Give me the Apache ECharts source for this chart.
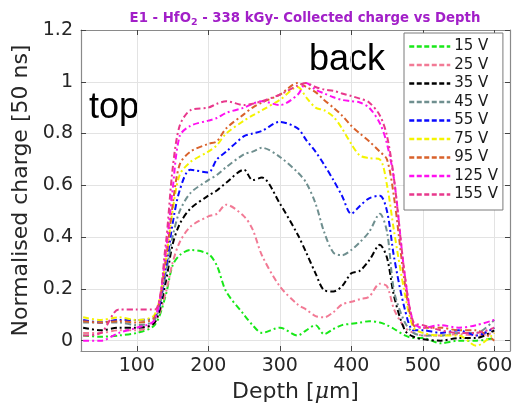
<!DOCTYPE html>
<html><head><meta charset="utf-8">
<script src="https://cdn.jsdelivr.net/npm/echarts@6/dist/echarts.min.js"></script>
<style>html,body{margin:0;padding:0;background:#fff}#c{width:520px;height:411px}</style>
</head><body><div id="c"></div>
<script>
var depth = [25,50,75,100,125,140,150,160,175,200,212,225,250,262,275,300,325,337,350,362,375,387,400,412,425,440,450,460,475,487,500,525,550,575,600];
var v15  = [0.02,0.015,0.02,0.03,0.06, 0.17,0.29,0.33,0.35,0.335, 0.29,0.19,0.10,0.06,0.03, 0.05,0.02,0.04,0.06,0.025, 0.045,0.06,0.065,0.07,0.075, 0.07,0.06,0.045,0.02,0.01, 0.01,-0.01,0.0,0.0,0.01];
var v25  = [0.03,0.03,0.04,0.04,0.07, 0.18,0.30,0.38,0.44,0.48, 0.49,0.525,0.48,0.43,0.33, 0.21,0.14,0.12,0.095,0.09, 0.11,0.14,0.15,0.16,0.17, 0.22,0.21,0.12,0.05,0.03, 0.02,0.02,0.025,0.02,0.03];
var v35  = [0.05,0.04,0.05,0.05,0.07, 0.22,0.37,0.45,0.51,0.56, 0.58,0.61,0.66,0.62,0.63, 0.53,0.41,0.34,0.26,0.195, 0.19,0.21,0.26,0.27,0.31, 0.37,0.32,0.17,0.04,0.015, 0.005,0.0,0.01,0.01,0.04];
var v45  = [0.07,0.07,0.07,0.06,0.08, 0.25,0.40,0.50,0.57,0.62, 0.64,0.67,0.72,0.73,0.745, 0.71,0.65,0.61,0.53,0.42, 0.34,0.33,0.35,0.38,0.42, 0.49,0.42,0.19,0.07,0.03, 0.02,0.02,0.03,0.03,0.08];
var v55  = [0.08,0.07,0.08,0.08,0.09, 0.27,0.45,0.58,0.66,0.65, 0.70,0.73,0.79,0.80,0.81, 0.845,0.82,0.775,0.73,0.68, 0.62,0.56,0.49,0.52,0.55, 0.56,0.50,0.32,0.12,0.04, 0.04,0.03,0.04,0.02,0.05];
var v75  = [0.09,0.08,0.09,0.08,0.10, 0.30,0.50,0.64,0.69,0.73, 0.755,0.80,0.85,0.87,0.89, 0.93,0.98,0.94,0.90,0.89, 0.865,0.82,0.76,0.715,0.705, 0.70,0.60,0.42,0.18,0.05, 0.03,0.02,0.02,-0.02,0.03];
var v95  = [0.075,0.07,0.075,0.07,0.09, 0.30,0.52,0.68,0.73,0.76, 0.77,0.82,0.875,0.90,0.92, 0.95,0.995,0.98,0.96,0.93, 0.90,0.87,0.83,0.80,0.77, 0.73,0.70,0.55,0.22,0.06, 0.05,0.05,0.04,0.04,0.0];
var v125 = [0.0,0.0,0.03,0.05,0.08, 0.33,0.58,0.79,0.83,0.85, 0.86,0.88,0.90,0.915,0.925, 0.91,0.95,0.995,0.97,0.955, 0.94,0.93,0.925,0.92,0.90, 0.84,0.76,0.62,0.25,0.07, 0.05,0.06,0.05,0.06,0.08];
var v155 = [0.02,0.03,0.12,0.12,0.12, 0.36,0.66,0.83,0.89,0.90, 0.915,0.925,0.91,0.915,0.925, 0.95,0.985,0.995,0.98,0.97, 0.965,0.955,0.945,0.935,0.92, 0.87,0.79,0.62,0.25,0.07, 0.06,0.04,0.03,0.03,0.05];
var seriesNames = ['15 V','25 V','35 V','45 V','55 V','75 V','95 V','125 V','155 V'];
var seriesValues = [v15,v25,v35,v45,v55,v75,v95,v125,v155];
var colors = ['#18e818','#f27a95','#000000','#6f8f8f','#0a0aff','#f4f400','#d9622b','#ff10f0','#e8388c'];
var xTicks = [100,200,300,400,500,600];
var yTicks = [0,0.2,0.4,0.6,0.8,1,1.2];

var chart = echarts.init(document.getElementById('c'), null, {renderer:'canvas'});
var tickCol = '#262626', frameCol = '#8a8a8a', gridCol = '#e3e3e3';
var font = 'DejaVu Sans';
function mkX(pos, show){
  return {type:'value', min:22, max:622, position:pos,
    axisLine:{show:true, onZero:false, lineStyle:{color:frameCol,width:1.2}},
    axisTick:{show:true, inside:true, length:5, customValues:xTicks, lineStyle:{color:'#444'}},
    axisLabel:{show:show, customValues:xTicks, color:tickCol, fontSize:19, fontFamily:font, margin:6},
    splitLine:{show:show, lineStyle:{color:gridCol}},
    name: show ? '{a|Depth [}{m|\u03bc}{a|m]}' : '', nameLocation:'middle', nameGap:30,
    nameTextStyle:{color:tickCol, fontSize:22, fontFamily:font,
      rich:{a:{color:tickCol, fontSize:22, fontFamily:font}, m:{color:tickCol, fontSize:22, fontFamily:'DejaVu Serif', fontStyle:'italic'}}}};
}
function mkY(pos, show){
  return {type:'value', min:-0.04, max:1.2, position:pos,
    axisLine:{show:true, onZero:false, lineStyle:{color:frameCol,width:1.2}},
    axisTick:{show:true, inside:true, length:5, customValues:yTicks, lineStyle:{color:'#444'}},
    axisLabel:{show:show, customValues:yTicks, color:tickCol, fontSize:19, fontFamily:font, margin:8},
    splitLine:{show:show, lineStyle:{color:gridCol}},
    name: show ? 'Normalised charge [50 ns]' : '', nameLocation:'middle', nameGap:48,
    nameTextStyle:{color:tickCol, fontSize:22, fontFamily:font}};
}
var series = seriesNames.map(function(n,i){
  return {name:n, type:'line', xAxisIndex:0, yAxisIndex:0, symbol:'none', smooth:0.3,
    data: depth.map(function(d,j){return [d, seriesValues[i][j]];}),
    lineStyle:{color:colors[i], width:2, type:[6,3,2,3]}, itemStyle:{color:colors[i]}, z:2+i};
});
chart.setOption({
  animation:false,
  backgroundColor:'#fff',
  title:{text:'{a|E1 - HfO}{s|2}{a| - 338 kGy- Collected charge vs Depth}', left:300, top:4, textAlign:'center',
    textStyle:{rich:{a:{color:'#a21fc8', fontWeight:'bold', fontSize:13.3, fontFamily:font},
                     s:{color:'#a21fc8', fontWeight:'bold', fontSize:9.5, fontFamily:font, padding:[9,0,0,0]}}}},
  grid:{left:81, right:10, top:30, bottom:60, containLabel:false},
  xAxis:[mkX('bottom',true), mkX('top',false)],
  yAxis:[mkY('left',true), mkY('right',false)],
  legend:{orient:'vertical', left:404, top:33, data:seriesNames, itemWidth:41, itemHeight:14, itemGap:3.5,
    padding:[6,5,8,4], borderColor:'#7a7a7a', borderWidth:1, backgroundColor:'#fff',
    itemStyle:{opacity:0},
    lineStyle:{type:[5,2.5], width:2.5},
    textStyle:{color:'#1a1a1a', fontSize:15, fontFamily:font, padding:[0,0,0,-1]}},
  graphic:[
    {type:'text', left:89, top:90, style:{text:'top', fontSize:36, fontFamily:'Liberation Sans', fill:'#000'}},
    {type:'text', left:309, top:42, style:{text:'back', fontSize:36, fontFamily:'Liberation Sans', fill:'#000'}}
  ],
  series:series
});
</script></body></html>
